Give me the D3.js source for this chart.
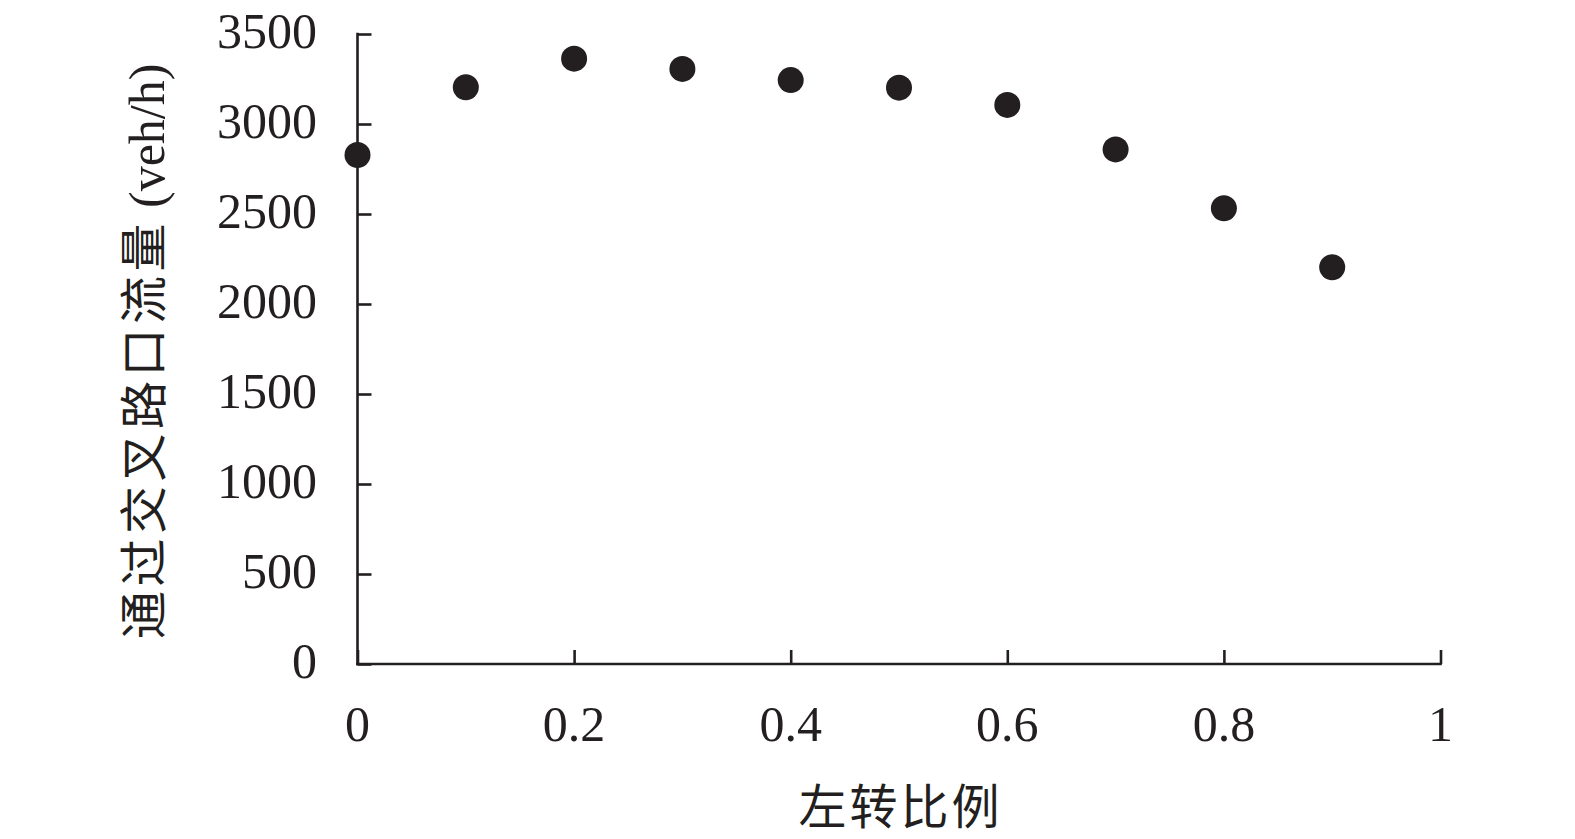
<!DOCTYPE html>
<html>
<head>
<meta charset="utf-8">
<script src="https://cdn.jsdelivr.net/npm/d3@7"></script>
<style>
  html, body { margin: 0; padding: 0; background: #fff; }
  svg { display: block; }
</style>
</head>
<body>
<svg id="chart" width="1575" height="839"></svg>
<script>
const leftTurnRatio = [0, 0.1, 0.2, 0.3, 0.4, 0.5, 0.6, 0.7, 0.8, 0.9];
const flowValues = [2828, 3204, 3363, 3306, 3244, 3202, 3106, 2859, 2532, 2204];
const xTicks = [0, 0.2, 0.4, 0.6, 0.8, 1];
const yTicks = [0, 500, 1000, 1500, 2000, 2500, 3000, 3500];
const xTitle = "左转比例";
const yTitleCJK = "通过交叉路口流量";
const yTitleUnit = "(veh/h)";

const ink = "#231f20";
const serif = "'Liberation Serif', 'Times New Roman', serif";
const cjk = "'Noto Sans CJK SC', sans-serif";

const svg = d3.select("#chart");
const x = d3.scaleLinear().domain([0, 1]).range([357.5, 1440.5]);
const y = d3.scaleLinear().domain([0, 3500]).range([664, 34]);

// Y axis (ticks pointing inward)
const yAxis = svg.append("g")
  .attr("transform", `translate(${x(0)},0)`)
  .call(d3.axisRight(y).tickValues(yTicks).tickSize(14).tickFormat(""));
yAxis.select(".domain").remove();
yAxis.selectAll("line").attr("stroke", ink).attr("stroke-width", 2.6);
svg.append("line")
  .attr("x1", x(0)).attr("x2", x(0)).attr("y1", y(3500) - 1.3).attr("y2", y(0) + 1.3)
  .attr("stroke", ink).attr("stroke-width", 2.6);

// X axis (ticks pointing upward)
const xAxis = svg.append("g")
  .attr("transform", `translate(0,${y(0)})`)
  .call(d3.axisTop(x).tickValues(xTicks).tickSize(14).tickFormat(""));
xAxis.select(".domain").remove();
xAxis.selectAll("line").attr("stroke", ink).attr("stroke-width", 2.6);
svg.append("line")
  .attr("x1", x(0) - 1.3).attr("x2", x(1) + 1.3).attr("y1", y(0)).attr("y2", y(0))
  .attr("stroke", ink).attr("stroke-width", 2.6);

// Tick labels
svg.append("g").selectAll("text").data(yTicks).join("text")
  .attr("x", 317).attr("y", d => y(d) + 14)
  .attr("text-anchor", "end")
  .attr("font-family", serif).attr("font-size", 50).attr("fill", ink)
  .text(d => d);

svg.append("g").selectAll("text").data(xTicks).join("text")
  .attr("x", d => x(d)).attr("y", 741)
  .attr("text-anchor", "middle")
  .attr("font-family", serif).attr("font-size", 50).attr("fill", ink)
  .text(d => d3.format("")(d));

// Titles
svg.append("text")
  .attr("x", 900.5).attr("y", 824)
  .attr("text-anchor", "middle")
  .attr("font-family", cjk).attr("font-size", 48).attr("fill", ink)
  .style("letter-spacing", "3px")
  .text(xTitle);

const yt = svg.append("text")
  .attr("transform", `translate(161,639) rotate(-90)`)
  .attr("text-anchor", "start")
  .attr("fill", ink);
yt.append("tspan").attr("font-family", cjk).attr("font-size", 48)
  .style("letter-spacing", "4.5px")
  .text(yTitleCJK);
yt.append("tspan").attr("font-family", serif).attr("font-size", 50)
  .style("letter-spacing", "0px")
  .attr("dx", 11).attr("dy", 3)
  .text(yTitleUnit);

// Points
svg.append("g").selectAll("circle").data(leftTurnRatio).join("circle")
  .attr("cx", d => x(d))
  .attr("cy", (d, i) => y(flowValues[i]))
  .attr("r", 13)
  .attr("fill", ink);
</script>
</body>
</html>
